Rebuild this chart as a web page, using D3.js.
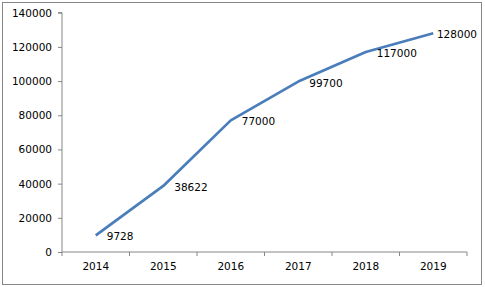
<!DOCTYPE html>
<html>
<head>
<meta charset="utf-8">
<script src="https://cdn.jsdelivr.net/npm/d3@7"></script>
<style>
  body { margin: 0; background: #fff; }
  text { font-family: "DejaVu Sans", sans-serif; font-size: 10.5px; fill: #000; }
</style>
</head>
<body>
<div id="chart"></div>
<script>
const years = ["2014", "2015", "2016", "2017", "2018", "2019"];
const values = [9728, 38622, 77000, 99700, 117000, 128000];
const yTicks = [0, 20000, 40000, 60000, 80000, 100000, 120000, 140000];

const W = 485, H = 287;
const margin = { top: 12.7, right: 18, bottom: 35, left: 62 };
const width = W - margin.left - margin.right;
const height = H - margin.top - margin.bottom;

const root = d3.select("#chart").append("svg")
    .attr("width", W).attr("height", H);

// outer chart border
root.append("rect")
    .attr("x", 2.5).attr("y", 2.5)
    .attr("width", 479).attr("height", 282)
    .attr("fill", "#fff").attr("stroke", "#868686");

const svg = root.append("g").attr("transform", `translate(${margin.left},${margin.top})`);

const x = d3.scaleBand().domain(years).range([0, width]);
const y = d3.scaleLinear().domain([0, 140000]).range([height, 0]);

// y axis
const yAxis = svg.append("g")
    .call(d3.axisLeft(y).tickValues(yTicks).tickSize(4).tickPadding(6).tickFormat(d3.format("d")));
yAxis.select(".domain").attr("stroke", "#868686").attr("d", `M-4,${y(140000)}H0V${height}`);
yAxis.selectAll(".tick line").attr("stroke", "#868686");
yAxis.selectAll("text").style("font-family", "DejaVu Sans").style("font-size", "10.5px");

// x axis with ticks at category boundaries
const xAxis = svg.append("g").attr("transform", `translate(0,${height})`)
    .call(d3.axisBottom(x).tickSize(0).tickPadding(11));
xAxis.select(".domain").attr("stroke", "#868686").attr("d", `M0,0H${width}`);
xAxis.selectAll("text").style("font-family", "DejaVu Sans").style("font-size", "10.5px");
xAxis.selectAll(".boundary").data(d3.range(years.length + 1)).enter()
    .append("line").attr("class", "boundary")
    .attr("x1", i => i * x.step()).attr("x2", i => i * x.step())
    .attr("y1", 0).attr("y2", 4)
    .attr("stroke", "#868686");

// line
const pts = years.map((yr, i) => ({ year: yr, value: values[i] }));
const line = d3.line().x(d => x(d.year) + x.bandwidth() / 2).y(d => y(d.value));
svg.append("path").datum(pts)
    .attr("d", line)
    .attr("fill", "none")
    .attr("stroke", "#4a7ebb")
    .attr("stroke-width", 2.75)
    .attr("stroke-linejoin", "round");

// data labels to the right of each point, kept inside the chart
const maxRight = 477 - margin.left;
svg.append("g").selectAll("text").data(pts).enter()
    .append("text")
    .text(d => d.value)
    .attr("dy", "0.38em")
    .attr("y", d => y(d.value) + 1)
    .each(function (d) {
        const w = this.getComputedTextLength();
        let px = x(d.year) + x.bandwidth() / 2 + 11;
        if (px + w > maxRight) px = maxRight - w;
        d3.select(this).attr("x", px);
    });
</script>
</body>
</html>
